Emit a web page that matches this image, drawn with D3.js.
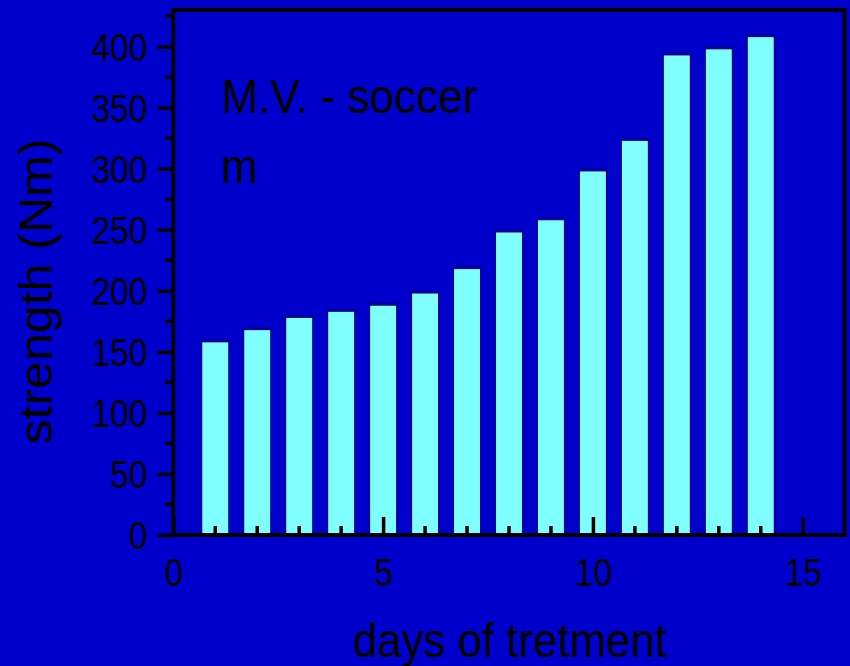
<!DOCTYPE html>
<html>
<head>
<meta charset="utf-8">
<script src="https://cdn.jsdelivr.net/npm/d3@7/dist/d3.min.js"></script>
<style>
  html, body { margin: 0; padding: 0; background: #0000cc; }
  svg { display: block; }
  text { font-family: "Liberation Sans", Arial, sans-serif; fill: #000; }
</style>
</head>
<body>
<svg id="chart" width="850" height="666"></svg>
<script>
// Daily strength measurements over the course of treatment
const days = [1, 2, 3, 4, 5, 6, 7, 8, 9, 10, 11, 12, 13, 14];
const strength = [160, 170, 180, 185, 190, 200, 220, 250, 260, 300, 325, 395, 400, 410];
const xTickValues = [0, 5, 10, 15];
const xMinorValues = [1, 2, 3, 4, 6, 7, 8, 9, 11, 12, 13, 14];
const yTickValues = [0, 50, 100, 150, 200, 250, 300, 350, 400];
const yMinorValues = [25, 75, 125, 175, 225, 275, 325, 375, 425];

const svg = d3.select("#chart");
const W = 850, H = 666;
const plotL = 173.3, plotR = 844.7, plotT = 10, plotB = 535;

svg.append("rect").attr("width", W).attr("height", H).attr("fill", "#0000cc");

const x = d3.scaleLinear().domain([0, 16]).range([plotL, plotR]);
const y = d3.scaleLinear().domain([0, 430]).range([plotB, plotT]);

// Bars: dark outline with a cyan body
const barW = x(0.69) - x(0);
const bars = svg.append("g");
const data = days.map((d, i) => ({ day: d, value: strength[i] }));
bars.selectAll("rect.outer").data(data).join("rect")
  .attr("class", "outer")
  .attr("x", d => x(d.day) - barW / 2)
  .attr("y", d => y(d.value))
  .attr("width", barW)
  .attr("height", d => y(0) - y(d.value))
  .attr("fill", "#00008f");
bars.selectAll("rect.inner").data(data).join("rect")
  .attr("class", "inner")
  .attr("x", d => x(d.day) - barW / 2 + 1.5)
  .attr("y", d => y(d.value) + 2.7)
  .attr("width", barW - 3)
  .attr("height", d => y(0) - y(d.value) - 2.7)
  .attr("fill", "#80ffff");

// Y axis: ticks point outward
const yAxis = svg.append("g").attr("transform", `translate(${plotL},0)`)
  .call(d3.axisLeft(y).tickValues(yTickValues).tickSize(16).tickFormat(d3.format("d")));
yAxis.select(".domain").remove();
yAxis.selectAll(".tick line").attr("stroke", "#000").attr("stroke-width", 3.5);
yAxis.selectAll(".tick text")
  .attr("x", null).attr("dy", "0.36em")
  .attr("text-anchor", "end")
  .attr("font-size", 38)
  .attr("font-family", "Liberation Sans, Arial, sans-serif")
  .attr("fill", "#000")
  .attr("transform", "translate(-26,0) scale(0.88,1)");
svg.append("g").selectAll("line").data(yMinorValues).join("line")
  .attr("x1", plotL - 8).attr("x2", plotL)
  .attr("y1", d => y(d)).attr("y2", d => y(d))
  .attr("stroke", "#000").attr("stroke-width", 3.5);

// X axis: ticks point inward
const xAxis = svg.append("g").attr("transform", `translate(0,${plotB})`)
  .call(d3.axisBottom(x).tickValues(xTickValues).tickSize(-18).tickFormat(d3.format("d")));
xAxis.select(".domain").remove();
xAxis.selectAll(".tick line").attr("stroke", "#000").attr("stroke-width", 3.5);
xAxis.selectAll(".tick text")
  .attr("y", 0).attr("dy", 0)
  .attr("text-anchor", "middle")
  .attr("font-size", 38)
  .attr("font-family", "Liberation Sans, Arial, sans-serif")
  .attr("fill", "#000")
  .attr("transform", "translate(0,51) scale(0.88,1)");
svg.append("g").selectAll("line").data(xMinorValues).join("line")
  .attr("x1", d => x(d)).attr("x2", d => x(d))
  .attr("y1", plotB - 9).attr("y2", plotB)
  .attr("stroke", "#000").attr("stroke-width", 3.5);

// Plot frame
svg.append("path")
  .attr("d", `M${plotL},${plotB} H${plotR} V${plotT} H${plotL} Z`)
  .attr("fill", "none").attr("stroke", "#000").attr("stroke-width", 3.8)
  .attr("stroke-linejoin", "miter");

// Axis titles
svg.append("text")
  .attr("x", 510).attr("y", 657)
  .attr("text-anchor", "middle")
  .attr("font-size", 48)
  .attr("textLength", 314).attr("lengthAdjust", "spacingAndGlyphs")
  .text("days of tretment");

svg.append("text")
  .attr("transform", "translate(52,291.5) rotate(-90)")
  .attr("text-anchor", "middle")
  .attr("font-size", 46)
  .attr("textLength", 306).attr("lengthAdjust", "spacingAndGlyphs")
  .text("strength (Nm)");

// Annotations inside the plot
svg.append("text")
  .attr("x", 221.5).attr("y", 113)
  .attr("font-size", 49)
  .attr("textLength", 256).attr("lengthAdjust", "spacingAndGlyphs")
  .text("M.V. - soccer");

svg.append("text")
  .attr("transform", "translate(221,183) scale(0.9,1)")
  .attr("font-size", 49)
  .text("m");
</script>
</body>
</html>
